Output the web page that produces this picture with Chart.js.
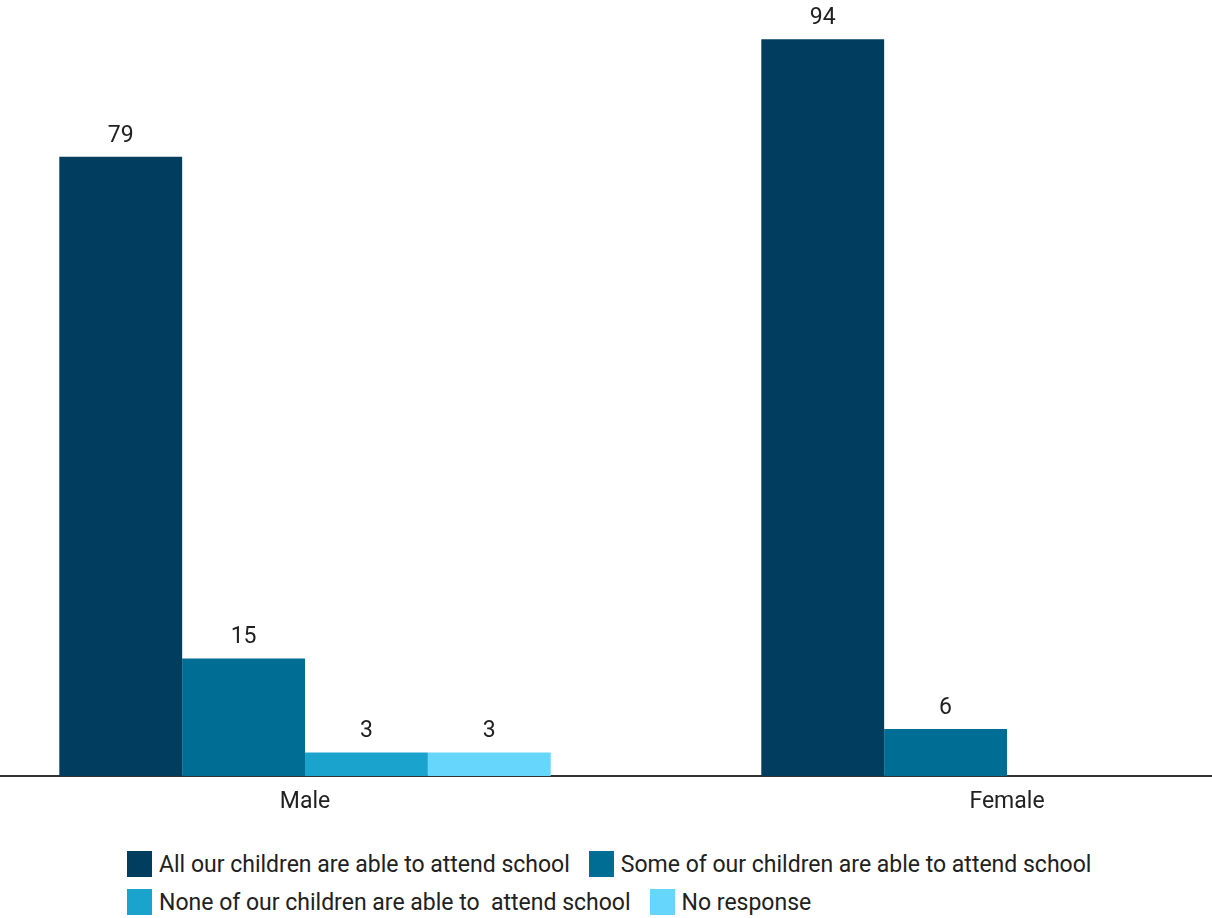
<!DOCTYPE html>
<html>
<head>
<meta charset="utf-8">
<script src="https://cdn.jsdelivr.net/npm/chart.js@4/dist/chart.umd.min.js"></script>
<style>
  html, body { margin: 0; padding: 0; background: #fff; }
  #wrap { position: relative; width: 1212px; height: 918px; overflow: hidden; font-family: Roboto, sans-serif; }
  #chart { position: absolute; left: -46px; top: 0; }
  #legend { position: absolute; left: 127px; top: 851px; width: 985px; display: flex; flex-wrap: wrap; row-gap: 12px; }
  .item { display: flex; align-items: center; margin-right: 19px; height: 26px; }
  .box { width: 25px; height: 26px; margin-right: 7px; }
  .lbl { font-size: 23px; color: #212121; white-space: pre; }
</style>
</head>
<body>
<div id="wrap">
  <canvas id="chart" width="1404" height="830"></canvas>
  <div id="legend"></div>
</div>
<script>
const categories = ['Male', 'Female'];
const seriesNames = [
  'All our children are able to attend school',
  'Some of our children are able to attend school',
  'None of our children are able to  attend school',
  'No response'
];
const allAttend = [79, 94];
const someAttend = [15, 6];
const noneAttend = [3, 0];
const noResponse = [3, 0];
const colors = ['#003d5f', '#006d95', '#1aa3cd', '#67d6fd'];

const valueLabels = {
  id: 'valueLabels',
  afterDatasetsDraw(chart) {
    const ctx = chart.ctx;
    ctx.save();
    ctx.font = '23px Roboto';
    ctx.fillStyle = '#212121';
    ctx.textAlign = 'center';
    ctx.textBaseline = 'alphabetic';
    chart.data.datasets.forEach((ds, i) => {
      chart.getDatasetMeta(i).data.forEach((bar, j) => {
        const v = ds.data[j];
        if (!v) return;
        ctx.fillText(v, bar.x, bar.y - 15);
      });
    });
    ctx.restore();
  }
};

const seriesData = [allAttend, someAttend, noneAttend, noResponse];

const myChart = new Chart(document.getElementById('chart'), {
  type: 'bar',
  data: {
    labels: categories,
    datasets: seriesData.map((d, i) => ({
      label: seriesNames[i],
      data: d,
      backgroundColor: colors[i],
      borderWidth: 0
    }))
  },
  options: {
    responsive: false,
    animation: false,
    layout: { padding: 0 },
    datasets: { bar: { categoryPercentage: 0.7, barPercentage: 1.0 } },
    scales: {
      x: {
        grid: { display: false, drawTicks: false },
        border: { display: true, color: '#333', width: 2 },
        ticks: { color: '#212121', font: { family: 'Roboto', size: 23 }, padding: 12 },
        afterFit: s => { s.height = 54; }
      },
      y: { display: false, min: 0, max: 99 }
    },
    plugins: {
      legend: { display: false },
      tooltip: { enabled: false }
    }
  },
  plugins: [valueLabels]
});

// html legend built from the chart's own legend items
const legendEl = document.getElementById('legend');
Chart.defaults.plugins.legend.labels.generateLabels(myChart).forEach(item => {
  const div = document.createElement('div');
  div.className = 'item';
  div.innerHTML = '<span class="box" style="background:' + item.fillStyle + '"></span><span class="lbl"></span>';
  div.querySelector('.lbl').textContent = item.text;
  legendEl.appendChild(div);
});
</script>
</body>
</html>
